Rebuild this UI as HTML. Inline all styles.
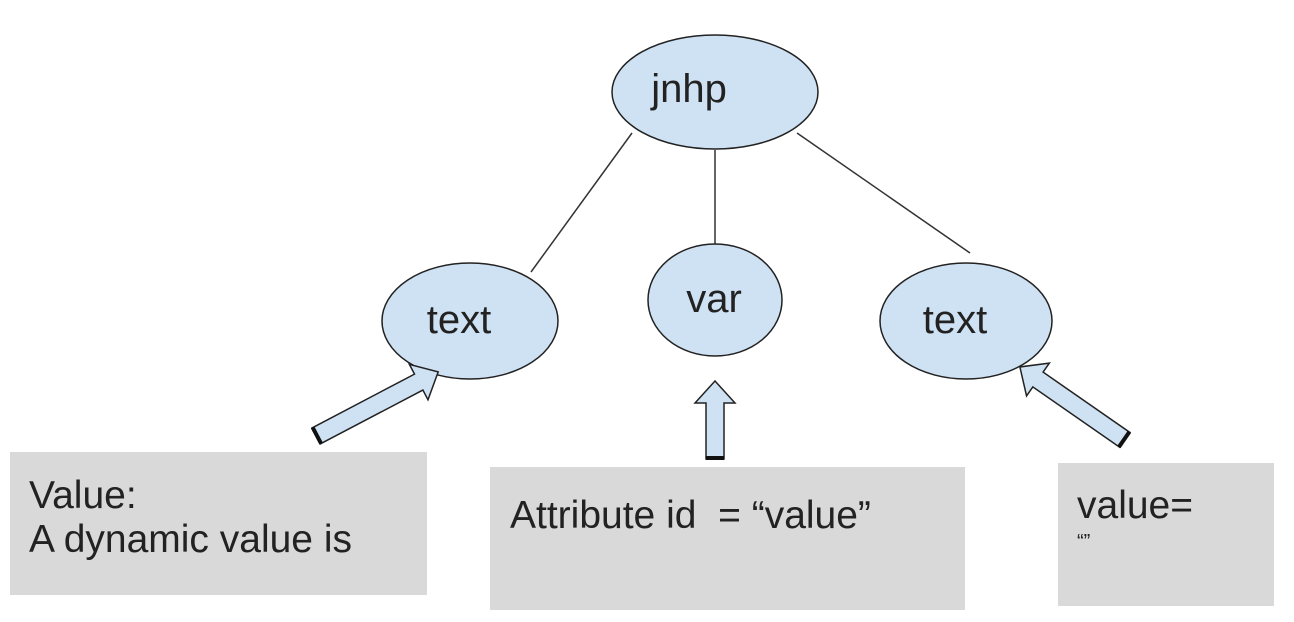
<!DOCTYPE html>
<html><head><meta charset="utf-8"><style>
html,body{margin:0;padding:0;background:#fff;}
svg{display:block;}
text{font-family:"Liberation Sans",Arial,sans-serif;fill:#222;}
</style></head><body>
<svg width="1294" height="622" viewBox="0 0 1294 622" xmlns="http://www.w3.org/2000/svg">
<g stroke="#333" stroke-width="1.5">
<line x1="632" y1="133" x2="531" y2="272"/>
<line x1="715" y1="150" x2="715" y2="244"/>
<line x1="797" y1="133" x2="970" y2="253"/>
</g>
<g fill="#cfe2f3" stroke="#222" stroke-width="1.5">
<ellipse cx="715" cy="92" rx="103" ry="57"/>
<ellipse cx="470" cy="321" rx="88" ry="58"/>
<ellipse cx="715" cy="300" rx="67" ry="56"/>
<ellipse cx="966" cy="321" rx="86" ry="58"/>
</g>
<g font-size="40" text-anchor="middle">
<text x="689" y="102">jnhp</text>
<text x="459" y="333">text</text>
<text x="714" y="312">var</text>
<text x="955" y="333">text</text>
</g>
<g fill="#cfe2f3" stroke="#222" stroke-width="1.5">
<polygon transform="translate(316,436) rotate(-27.7)" points="0,-9 116,-9 116,-20 138,0 116,20 116,9 0,9"/>
<polygon transform="translate(715,459) rotate(-90)" points="0,-9 56,-9 56,-20 78,0 56,20 56,9 0,9"/>
<polygon transform="translate(1125,440) rotate(-145.2)" points="0,-9 106,-9 106,-20 128,0 106,20 106,9 0,9"/>
</g>
<g stroke="#111" stroke-width="4">
<line transform="translate(316,436) rotate(-27.7)" x1="1" y1="-9" x2="1" y2="9"/>
<line transform="translate(715,459) rotate(-90)" x1="1" y1="-9" x2="1" y2="9"/>
<line transform="translate(1125,440) rotate(-145.2)" x1="1" y1="-9" x2="1" y2="9"/>
</g>
<g fill="#d9d9d9">
<rect x="10" y="452" width="417" height="143"/>
<rect x="490" y="467" width="475" height="143"/>
<rect x="1058" y="463" width="216" height="143"/>
</g>
<g font-size="39">
<text x="29" y="508">Value:</text>
<text x="29" y="552">A dynamic value is</text>
<text x="510" y="528" xml:space="preserve">Attribute id  = “value”</text>
<text x="1077" y="518">value=</text>
<text x="1077" y="548" font-size="20">“”</text>
</g>
</svg>
</body></html>
